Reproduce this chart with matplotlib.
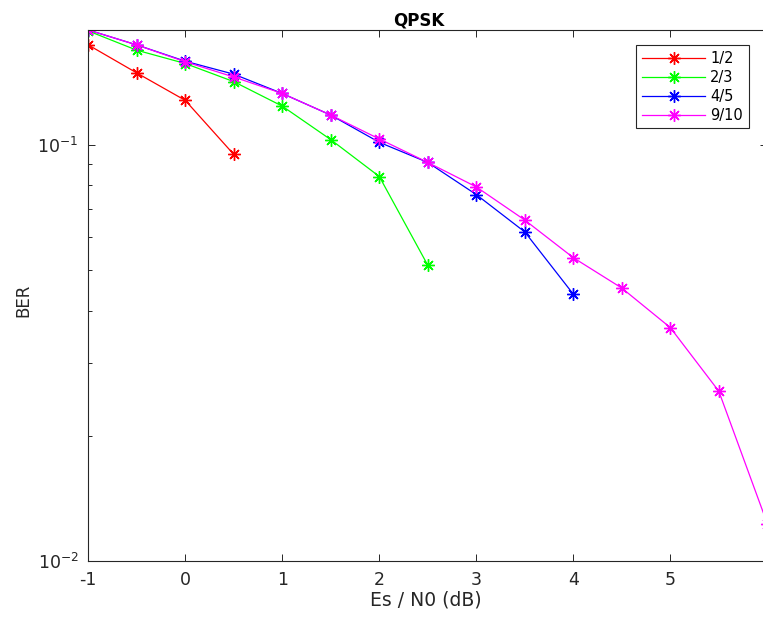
import matplotlib
matplotlib.use("Agg")
import matplotlib.pyplot as plt
from matplotlib.ticker import LogLocator, LogFormatterMathtext, NullFormatter

# ======================
# Data
# ======================
snr_12 = [-1, -0.5, 0, 0.5]
ber_12 = [0.174, 0.149, 0.128, 0.0949]

snr_23 = [-1, -0.5, 0, 0.5, 1, 1.5, 2, 2.5]
ber_23 = [0.188, 0.169, 0.157, 0.142, 0.124, 0.103, 0.084, 0.0514]

snr_45 = [-1, -0.5, 0, 0.5, 1, 1.5, 2, 2.5, 3, 3.5, 4]
ber_45 = [0.189, 0.174, 0.159, 0.148, 0.133, 0.118, 0.1015, 0.0908, 0.076, 0.0618, 0.0438]

snr_910 = [-1, -0.5, 0, 0.5, 1, 1.5, 2, 2.5, 3, 3.5, 4, 4.5, 5, 5.5, 6]
ber_910 = [0.189, 0.174, 0.1585, 0.1457, 0.133, 0.118, 0.1034, 0.0908, 0.0793,
           0.066, 0.0536, 0.0453, 0.0364, 0.0256, 0.0123]

rates = ["1/2", "2/3", "4/5", "9/10"]
colors = ["#ff0000", "#00ff00", "#0000ff", "#ff00ff"]

plt.rcParams["font.family"] = ["DejaVu Sans"]
plt.rcParams["axes.unicode_minus"] = False

W, H = 763, 619
fig = plt.figure(figsize=(W / 100, H / 100), dpi=100)
# axes box in pixels: left 88, right 767 (just past the image edge), top 30, bottom 561
ax = fig.add_axes([88.3 / W, 1 - 561 / H, 679 / W, 531 / H])

asterisk = (8, 2, 0)
series = [(snr_12, ber_12), (snr_23, ber_23), (snr_45, ber_45), (snr_910, ber_910)]
for (x, y), lab, c in zip(series, rates, colors):
    ax.plot(x, y, color=c, lw=0.9, marker=asterisk, ms=9, mew=1.0, label=lab)

ax.set_yscale("log")
ax.set_xlim(-1, 6)
ax.set_ylim(0.01, 0.189)
ax.set_xticks(range(-1, 7))
ax.yaxis.set_major_locator(LogLocator(base=10))
ax.yaxis.set_major_formatter(LogFormatterMathtext())
ax.yaxis.set_minor_locator(LogLocator(base=10, subs=range(2, 10)))
ax.yaxis.set_minor_formatter(NullFormatter())

dark = (0.15, 0.15, 0.15)
for sp in ax.spines.values():
    sp.set_color(dark)
    sp.set_linewidth(0.8)
ax.tick_params(which="both", direction="in", top=True, right=True, colors=dark,
               labelcolor="#262626", labelsize=12.5)
ax.tick_params(which="major", length=4.8, width=0.7, pad=7)
ax.tick_params(which="minor", length=2.6, width=0.7)

ax.set_xlabel("Es / N0 (dB)", fontsize=13.5, color="#262626")
ax.xaxis.set_label_coords(0.497, -0.056)
ax.set_ylabel("BER", fontsize=12, color="#262626")
ax.yaxis.set_label_coords(-0.082, 0.49)
ax.set_title("QPSK", fontsize=12, fontweight="bold", x=0.487, pad=3.5)

leg = ax.legend(loc="upper right", bbox_to_anchor=(748.7 / W, 1 - 45 / H),
                bbox_transform=fig.transFigure, borderaxespad=0, fontsize=10.5,
                handlelength=4.3, handletextpad=0.35, labelspacing=0.27,
                borderpad=0.4, fancybox=False, framealpha=1)
leg.get_frame().set_edgecolor(dark)
leg.get_frame().set_linewidth(0.8)

fig.savefig("out.png", dpi=100)
